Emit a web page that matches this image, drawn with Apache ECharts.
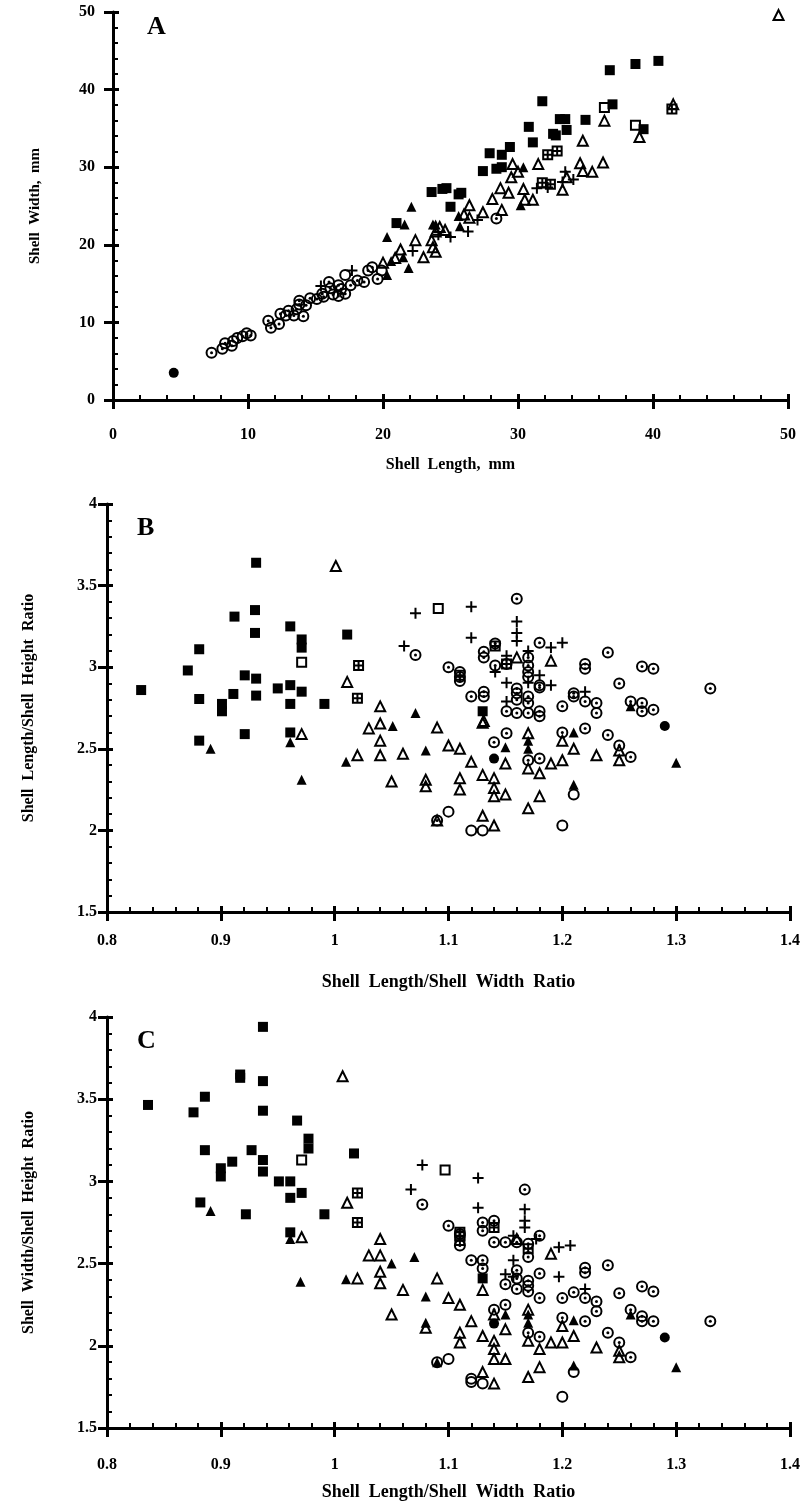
<!DOCTYPE html>
<html>
<head>
<meta charset="utf-8">
<script src="https://cdn.jsdelivr.net/npm/echarts@6/dist/echarts.min.js"></script>
<style>
  html, body { margin: 0; padding: 0; background: #fff; }
  #chart { width: 811px; height: 1504px; }
</style>
</head>
<body>
<div id="chart"></div>
<script>
// ---- panel A : shell width vs shell length (mm) ----
var aFilledSq = [[21.0,22.8],[23.6,26.8],[24.4,27.2],[24.7,27.3],[25.6,26.5],[25.8,26.7],[25.0,24.9],[27.4,29.5],[27.9,31.8],[28.8,31.6],[29.4,32.6],[28.4,29.8],[28.8,30.0],[31.1,33.2],[30.8,35.2],[31.8,38.5],[32.6,34.3],[32.8,34.1],[33.1,36.2],[33.5,36.2],[33.6,34.8],[35.0,36.1],[36.8,42.5],[37.0,38.1],[38.7,43.3],[40.4,43.7],[39.3,34.9]];
var aOpenSq = [[36.4,37.7],[38.7,35.4]];
var aGridSq = [[41.4,37.5],[32.2,31.6],[32.9,32.1],[31.8,28.0],[32.4,27.8]];
var aOpenTri = [[20.0,17.7],[20.9,18.3],[22.4,20.6],[23.0,18.4],[23.9,19.1],[23.7,19.7],[23.6,20.6],[23.9,21.7],[24.2,22.3],[24.6,21.9],[26.4,25.1],[26.4,23.5],[27.4,24.2],[28.1,25.9],[28.7,27.3],[29.3,26.7],[29.5,28.7],[29.6,30.4],[30.0,29.4],[30.4,27.2],[30.5,25.8],[31.1,25.8],[31.5,30.4],[28.8,24.5],[34.8,33.4],[34.6,30.5],[34.8,29.5],[35.5,29.4],[36.3,30.6],[36.4,36.0],[39.0,33.9],[41.5,38.1],[49.3,49.6],[33.3,27.1],[33.6,28.7],[26.0,23.9],[21.3,19.4]];
var aFilledTri = [[22.1,24.9],[20.3,21.0],[21.6,22.6],[21.5,18.4],[21.9,17.0],[20.3,16.1],[23.7,22.6],[20.6,17.9],[23.9,22.6],[25.6,23.7],[25.7,22.4],[30.2,25.1],[30.4,30.0]];
var aPlus = [[15.4,14.7],[17.7,16.7],[22.2,19.2],[24.1,21.3],[25.0,21.0],[26.3,21.7],[27.0,23.2],[31.4,27.3],[32.2,27.4],[33.5,29.4],[33.3,28.1],[34.1,28.4]];
var aDotCirc = [[7.3,6.1],[8.1,6.6],[8.3,7.3],[8.8,7.0],[8.9,7.6],[9.2,8.0],[9.6,8.2],[9.9,8.6],[10.2,8.3],[11.5,10.2],[11.7,9.3],[12.3,9.8],[12.4,11.1],[12.8,10.9],[13.0,11.5],[13.4,10.9],[13.6,11.7],[13.8,12.3],[13.8,12.8],[14.1,10.8],[14.3,12.2],[14.6,13.1],[15.1,13.0],[15.5,13.7],[15.6,13.3],[16.0,15.2],[16.1,14.4],[16.3,13.6],[16.7,13.4],[16.7,14.8],[16.9,14.3],[17.2,13.7],[17.6,14.8],[18.1,15.4],[18.6,15.2],[18.9,16.7],[19.2,17.1],[19.6,15.6],[28.4,23.4]];
var aOpenCirc = [[17.2,16.1],[19.9,16.7]];
var aFilledCirc = [[4.5,3.5]];

// ---- panel B : length/height vs length/width ----
var bFilledSq = [[0.931,3.64],[0.93,3.35],[0.912,3.31],[0.93,3.21],[0.961,3.25],[0.971,3.17],[0.971,3.12],[1.011,3.20],[0.881,3.11],[0.871,2.98],[0.921,2.95],[0.931,2.93],[0.95,2.87],[0.961,2.89],[0.83,2.86],[0.881,2.805],[0.901,2.775],[0.901,2.73],[0.911,2.836],[0.931,2.826],[0.971,2.85],[0.961,2.775],[0.991,2.775],[0.921,2.59],[0.881,2.55],[0.961,2.60],[1.13,2.73]];
var bOpenSq = [[0.971,3.03],[1.091,3.36]];
var bGridSq = [[1.021,3.01],[1.02,2.81],[1.141,3.13],[1.11,2.95],[1.151,3.02]];
var bOpenTri = [[1.001,3.62],[1.011,2.91],[0.971,2.59],[1.04,2.76],[1.03,2.625],[1.04,2.655],[1.04,2.55],[1.02,2.46],[1.04,2.46],[1.06,2.47],[1.09,2.63],[1.10,2.52],[1.11,2.50],[1.12,2.42],[1.13,2.66],[1.05,2.30],[1.08,2.31],[1.08,2.27],[1.11,2.32],[1.11,2.25],[1.13,2.34],[1.14,2.32],[1.14,2.26],[1.14,2.21],[1.15,2.22],[1.15,2.41],[1.17,2.38],[1.18,2.35],[1.18,2.21],[1.17,2.135],[1.13,2.09],[1.14,2.03],[1.19,2.41],[1.20,2.43],[1.20,2.55],[1.21,2.50],[1.23,2.46],[1.25,2.43],[1.25,2.49],[1.09,2.06],[1.17,2.595],[1.16,3.06],[1.19,3.04],[1.131,2.67]];
var bFilledTri = [[0.891,2.50],[0.961,2.54],[0.971,2.31],[1.01,2.42],[1.051,2.64],[1.071,2.72],[1.08,2.49],[1.15,2.51],[1.17,2.55],[1.17,2.50],[1.21,2.60],[1.21,2.28],[1.30,2.415],[1.26,2.76]];
var bPlus = [[1.071,3.33],[1.12,3.37],[1.16,3.28],[1.16,3.21],[1.16,3.16],[1.12,3.18],[1.19,3.12],[1.20,3.15],[1.151,3.07],[1.17,3.10],[1.18,2.95],[1.19,2.89],[1.151,2.905],[1.141,2.97],[1.22,2.85],[1.151,2.79],[1.061,3.13],[1.17,2.905]];
var bDotCirc = [[1.16,3.42],[1.071,3.075],[1.10,3.0],[1.11,2.97],[1.11,2.94],[1.11,2.915],[1.131,3.095],[1.131,3.06],[1.141,3.145],[1.141,3.01],[1.151,3.02],[1.17,3.06],[1.17,3.01],[1.17,2.97],[1.17,2.94],[1.18,3.15],[1.18,2.89],[1.18,2.875],[1.22,3.02],[1.22,2.99],[1.24,3.09],[1.27,3.005],[1.28,2.99],[1.25,2.90],[1.33,2.87],[1.12,2.82],[1.131,2.85],[1.131,2.82],[1.16,2.87],[1.16,2.84],[1.16,2.80],[1.17,2.82],[1.17,2.78],[1.17,2.72],[1.151,2.73],[1.16,2.72],[1.18,2.73],[1.18,2.70],[1.20,2.76],[1.21,2.84],[1.21,2.82],[1.22,2.79],[1.23,2.78],[1.23,2.72],[1.26,2.79],[1.27,2.78],[1.27,2.73],[1.28,2.74],[1.151,2.595],[1.20,2.60],[1.22,2.625],[1.24,2.585],[1.14,2.54],[1.18,2.44],[1.17,2.43],[1.25,2.52],[1.26,2.45],[1.09,2.06]];
var bOpenCirc = [[1.10,2.115],[1.12,2.00],[1.13,2.00],[1.20,2.03],[1.21,2.22]];
var bFilledCirc = [[1.14,2.44],[1.29,2.64]];

// ---- panel C : width/height vs length/width ----
var cFilledSq = [[0.937,3.94],[0.917,3.65],[0.917,3.63],[0.937,3.61],[0.886,3.515],[0.836,3.465],[0.876,3.42],[0.937,3.43],[0.967,3.37],[0.977,3.26],[0.977,3.20],[1.017,3.17],[0.886,3.19],[0.927,3.19],[0.882,2.872],[0.922,2.80],[0.961,2.90],[0.971,2.93],[0.961,2.69],[0.991,2.80],[1.13,2.41],[0.951,3.0],[0.961,3.0],[0.90,3.08],[0.90,3.03],[0.91,3.12],[0.937,3.06],[0.937,3.13]];
var cOpenSq = [[0.971,3.13],[1.097,3.07]];
var cGridSq = [[1.02,2.93],[1.02,2.75],[1.11,2.67],[1.11,2.64],[1.14,2.72],[1.17,2.59],[1.11,2.69]];
var cOpenTri = [[1.007,3.64],[1.011,2.87],[0.971,2.66],[1.02,2.41],[1.03,2.55],[1.04,2.55],[1.04,2.65],[1.04,2.45],[1.04,2.38],[1.06,2.34],[1.05,2.19],[1.08,2.11],[1.09,2.41],[1.10,2.29],[1.11,2.25],[1.12,2.15],[1.11,2.08],[1.11,2.02],[1.13,2.06],[1.13,2.34],[1.14,2.03],[1.14,1.98],[1.14,1.92],[1.15,1.92],[1.15,2.10],[1.14,2.19],[1.13,1.84],[1.14,1.77],[1.17,2.03],[1.17,1.81],[1.18,1.98],[1.18,1.87],[1.19,2.02],[1.20,2.02],[1.20,2.12],[1.21,2.06],[1.23,1.99],[1.25,1.93],[1.25,1.97],[1.16,2.65],[1.17,2.22],[1.19,2.56]];
var cFilledTri = [[0.891,2.82],[0.961,2.65],[0.97,2.39],[1.01,2.405],[1.05,2.50],[1.07,2.54],[1.08,2.30],[1.08,2.14],[1.15,2.19],[1.17,2.14],[1.17,2.19],[1.21,2.155],[1.21,1.88],[1.30,1.87],[1.26,2.19],[1.09,1.90]];
var cPlus = [[1.077,3.10],[1.067,2.95],[1.126,3.02],[1.126,2.84],[1.167,2.83],[1.167,2.76],[1.167,2.72],[1.157,2.67],[1.177,2.65],[1.197,2.60],[1.207,2.61],[1.157,2.52],[1.157,2.42],[1.197,2.42],[1.22,2.345],[1.15,2.435]];
var cDotCirc = [[1.167,2.95],[1.077,2.86],[1.10,2.73],[1.11,2.68],[1.11,2.61],[1.13,2.75],[1.13,2.70],[1.14,2.76],[1.14,2.63],[1.15,2.63],[1.16,2.63],[1.17,2.62],[1.17,2.54],[1.18,2.67],[1.12,2.52],[1.13,2.52],[1.13,2.47],[1.16,2.46],[1.16,2.41],[1.15,2.375],[1.16,2.345],[1.17,2.395],[1.17,2.365],[1.17,2.33],[1.18,2.44],[1.18,2.29],[1.20,2.29],[1.21,2.325],[1.22,2.29],[1.22,2.475],[1.22,2.445],[1.23,2.27],[1.23,2.21],[1.24,2.49],[1.25,2.32],[1.27,2.36],[1.28,2.33],[1.26,2.22],[1.27,2.18],[1.27,2.15],[1.28,2.15],[1.33,2.15],[1.22,2.15],[1.20,2.17],[1.14,2.22],[1.15,2.25],[1.17,2.08],[1.18,2.055],[1.24,2.08],[1.25,2.02],[1.26,1.93],[1.09,1.90]];
var cOpenCirc = [[1.10,1.92],[1.12,1.80],[1.13,1.77],[1.12,1.78],[1.20,1.69],[1.21,1.84]];
var cFilledCirc = [[1.14,2.135],[1.29,2.05]];

var FONT = '"Liberation Serif", "DejaVu Serif", serif';
var SQ = 'rect', TRI = 'triangle', CIRC = 'circle';
var PLUS = 'path://M5 0V10M0 5H10';
var GRIDSQ = 'path://M0 0H10V10H0ZM5 0V10M0 5H10';

// one marker series; open=true draws outline only
function pts(data, gi, sym, size, open) {
    return {
        type: 'scatter',
        xAxisIndex: gi * 2,
        yAxisIndex: gi * 2,
        data: data,
        symbol: sym,
        symbolSize: size,
        silent: true,
        itemStyle: open
            ? { color: 'rgba(0,0,0,0)', borderColor: '#000', borderWidth: 2, opacity: 1 }
            : { color: '#000', borderWidth: 0, opacity: 1 },
        emphasis: { disabled: true }
    };
}

function panelSeries(gi, d) {
    return [
        pts(d.dotCirc, gi, CIRC, 10, true),
        pts(d.dotCirc, gi, CIRC, 3, false),
        pts(d.openCirc, gi, CIRC, 10, true),
        pts(d.openTri, gi, TRI, 10, true),
        pts(d.filledTri, gi, TRI, 10, false),
        pts(d.filledSq, gi, SQ, 10, false),
        pts(d.openSq, gi, SQ, 9, true),
        pts(d.gridSq, gi, GRIDSQ, 9, true),
        pts(d.plus, gi, PLUS, 11, true),
        pts(d.filledCirc, gi, CIRC, 10, false)
    ];
}

function axisPair(gi, dim, min, max, interval, name, nameGap, labelMargin, nameSize) {
    var main = {
        type: 'value', gridIndex: gi, min: min, max: max, interval: interval,
        name: name, nameLocation: 'middle', nameGap: nameGap,
        nameTextStyle: { fontFamily: FONT, fontWeight: 'bold', fontSize: nameSize, color: '#000' },
        axisLine: { show: true, onZero: false, lineStyle: { color: '#000', width: 3 } },
        axisTick: { show: true, inside: true, length: 6, lineStyle: { color: '#000', width: 3 } },
        minorTick: { show: true, splitNumber: 5, length: 5, lineStyle: { color: '#000', width: 2 } },
        axisLabel: { fontFamily: FONT, fontWeight: 'bold', fontSize: 16, color: '#000', margin: labelMargin },
        splitLine: { show: false }
    };
    var outer = {
        type: 'value', gridIndex: gi, min: min, max: max, interval: interval,
        axisLine: { show: false },
        axisTick: { show: true, inside: false, length: 9, lineStyle: { color: '#000', width: 3 } },
        axisLabel: { show: false },
        splitLine: { show: false }
    };
    if (dim === 'x') { main.position = outer.position = 'bottom'; }
    else { main.position = outer.position = 'left'; }
    return [main, outer];
}

var xAxes = [].concat(
    axisPair(0, 'x', 0, 50, 10, 'Shell  Length,  mm', 57, 27, 16),
    axisPair(1, 'x', 0.8, 1.4, 0.1, 'Shell  Length/Shell  Width  Ratio', 61, 21, 18),
    axisPair(2, 'x', 0.8, 1.4, 0.1, 'Shell  Length/Shell  Width  Ratio', 55, 29, 18)
);
var yAxes = [].concat(
    axisPair(0, 'y', 0, 50, 10, 'Shell  Width,  mm', 70, 18, 15),
    axisPair(1, 'y', 1.5, 4, 0.5, 'Shell  Length/Shell  Height  Ratio', 70, 10, 16),
    axisPair(2, 'y', 1.5, 4, 0.5, 'Shell  Width/Shell  Height  Ratio', 70, 10, 16)
);

var series = [].concat(
    panelSeries(0, { dotCirc: aDotCirc, openCirc: aOpenCirc, openTri: aOpenTri, filledTri: aFilledTri, filledSq: aFilledSq, openSq: aOpenSq, gridSq: aGridSq, plus: aPlus, filledCirc: aFilledCirc }),
    panelSeries(1, { dotCirc: bDotCirc, openCirc: bOpenCirc, openTri: bOpenTri, filledTri: bFilledTri, filledSq: bFilledSq, openSq: bOpenSq, gridSq: bGridSq, plus: bPlus, filledCirc: bFilledCirc }),
    panelSeries(2, { dotCirc: cDotCirc, openCirc: cOpenCirc, openTri: cOpenTri, filledTri: cFilledTri, filledSq: cFilledSq, openSq: cOpenSq, gridSq: cGridSq, plus: cPlus, filledCirc: cFilledCirc })
);

var letterStyle = { fontFamily: FONT, fontWeight: 'bold', fontSize: 26, fill: '#000' };

var option = {
    animation: false,
    backgroundColor: '#fff',
    grid: [
        { left: 113, top: 12, width: 675, height: 388 },
        { left: 107, top: 504, width: 683, height: 408 },
        { left: 107, top: 1017, width: 683, height: 411 }
    ],
    xAxis: xAxes,
    yAxis: yAxes,
    series: series,
    graphic: [
        { type: 'text', left: 147, top: 14, style: Object.assign({ text: 'A' }, letterStyle) },
        { type: 'text', left: 137, top: 515, style: Object.assign({ text: 'B' }, letterStyle) },
        { type: 'text', left: 137, top: 1028, style: Object.assign({ text: 'C' }, letterStyle) }
    ]
};

var chart = echarts.init(document.getElementById('chart'));
chart.setOption(option);
</script>
</body>
</html>
